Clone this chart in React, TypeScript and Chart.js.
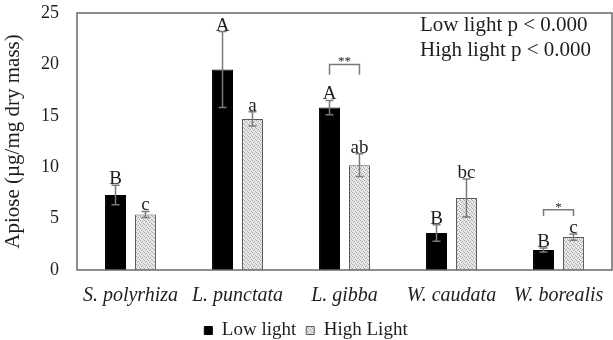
import React, { useEffect, useRef } from "react";
import { Chart, registerables } from "chart.js";

Chart.register(...registerables);

const categories = ["S. polyrhiza", "L. punctata", "L. gibba", "W. caudata", "W. borealis"];
const seriesNames = ["Low light", "High Light"];
const lowLight = [7.3, 19.5, 15.8, 3.6, 1.95];
const lowLightErr = [0.95, 3.7, 0.7, 0.8, 0.2];
const highLight = [5.4, 14.7, 10.2, 7.0, 3.2];
const highLightErr = [0.3, 0.7, 1.1, 1.85, 0.3];
const lowLetters = ["B", "A", "A", "B", "B"];
const highLetters = ["c", "a", "ab", "bc", "c"];
const bracketCategory = [2, 4];
const bracketTop = [20.0, 5.85];
const bracketLegBottom = [19.0, 5.25];
const bracketMarks = ["**", "*"];
const statLines = ["Low light p < 0.000", "High light p < 0.000"];
const yMin = 0;
const yMax = 25;
const yStep = 5;
const yTitle = "Apiose (\u00b5g/mg dry mass)";

const SERIF = "'Liberation Serif', 'Times New Roman', serif";
const TEXT = "#1e1e1e";
const GREY = "#7a7a7a";

const annotate = {
  id: "annotate",
  afterDatasetsDraw(chart: any) {
    const ctx = chart.ctx;
    const ys = chart.scales.y;
    const area = chart.chartArea;
    const sets: [number[], number[], string[]][] = [
      [lowLight, lowLightErr, lowLetters],
      [highLight, highLightErr, highLetters],
    ];
    ctx.save();
    sets.forEach(([vals, errs, letters], di) => {
      const meta = chart.getDatasetMeta(di);
      meta.data.forEach((bar: any, i: number) => {
        const x = bar.x;
        const yt = ys.getPixelForValue(vals[i] + errs[i]);
        const yb = ys.getPixelForValue(vals[i] - errs[i]);
        ctx.strokeStyle = GREY;
        ctx.lineWidth = 1.5;
        ctx.beginPath();
        ctx.moveTo(x, yt);
        ctx.lineTo(x, yb);
        ctx.moveTo(x - 4, yt);
        ctx.lineTo(x + 4, yt);
        ctx.moveTo(x - 4, yb);
        ctx.lineTo(x + 4, yb);
        ctx.stroke();
        ctx.fillStyle = TEXT;
        ctx.font = `19px ${SERIF}`;
        ctx.textAlign = "center";
        ctx.textBaseline = "alphabetic";
        ctx.fillText(letters[i], x, yt - 1);
      });
    });
    bracketCategory.forEach((ci, k) => {
      const x1 = chart.getDatasetMeta(0).data[ci].x;
      const x2 = chart.getDatasetMeta(1).data[ci].x;
      const yt = ys.getPixelForValue(bracketTop[k]);
      const yb = ys.getPixelForValue(bracketLegBottom[k]);
      ctx.strokeStyle = GREY;
      ctx.lineWidth = 1.5;
      ctx.beginPath();
      ctx.moveTo(x1, yb);
      ctx.lineTo(x1, yt);
      ctx.lineTo(x2, yt);
      ctx.lineTo(x2, yb);
      ctx.stroke();
      ctx.fillStyle = TEXT;
      ctx.font = `13px ${SERIF}`;
      ctx.textAlign = "center";
      ctx.textBaseline = "alphabetic";
      ctx.fillText(bracketMarks[k], (x1 + x2) / 2, yt + 1);
    });
    ctx.strokeStyle = "#6a6a6a";
    ctx.lineWidth = 1.5;
    ctx.strokeRect(area.left, area.top, area.right - area.left, area.bottom - area.top);
    ctx.fillStyle = TEXT;
    ctx.font = `21px ${SERIF}`;
    ctx.textAlign = "left";
    ctx.textBaseline = "alphabetic";
    statLines.forEach((s, i) => {
      ctx.fillText(s, 420, area.top + 18 + i * 25);
    });
    ctx.restore();
  },
};

export default function App() {
  const ref = useRef<HTMLCanvasElement | null>(null);
  useEffect(() => {
    const canvas = ref.current!;
    const pc = document.createElement("canvas");
    pc.width = 4;
    pc.height = 4;
    const p = pc.getContext("2d")!;
    p.fillStyle = "#e4e4e4";
    p.fillRect(0, 0, 4, 4);
    p.fillStyle = "#a8a8a8";
    [[0, 0], [2, 1], [1, 2], [3, 3]].forEach(([a, b]) => p.fillRect(a, b, 1, 1));
    p.fillStyle = "#f6f6f6";
    [[2, 3], [0, 2]].forEach(([a, b]) => p.fillRect(a, b, 1, 1));
    const pattern = canvas.getContext("2d")!.createPattern(pc, "repeat");

    const chart = new Chart(canvas, {
      type: "bar",
      data: {
        labels: categories,
        datasets: [
          {
            label: seriesNames[0],
            data: lowLight,
            backgroundColor: "#000000",
            borderColor: "#000000",
            borderWidth: 1,
            barPercentage: 0.7,
            categoryPercentage: 0.56,
          },
          {
            label: seriesNames[1],
            data: highLight,
            backgroundColor: pattern as any,
            borderColor: "#5a5a5a",
            borderWidth: 1,
            barPercentage: 0.7,
            categoryPercentage: 0.56,
          },
        ],
      },
      options: {
        responsive: false,
        animation: false,
        devicePixelRatio: 1,
        layout: { padding: { top: 13, right: 1, left: 0, bottom: -10 } },
        plugins: {
          tooltip: { enabled: false },
          legend: {
            position: "bottom",
            labels: {
              boxWidth: 8,
              boxHeight: 8,
              padding: 10,
              color: TEXT,
              font: { size: 19, family: SERIF },
            },
          },
        },
        scales: {
          x: {
            grid: { display: false, drawTicks: false },
            border: { display: false },
            ticks: {
              color: TEXT,
              padding: 14,
              font: { size: 20, family: SERIF, style: "italic" },
            },
            afterFit: (s: any) => {
              s.height = 41;
              s.paddingLeft = 0;
              s.paddingRight = 0;
            },
          },
          y: {
            min: yMin,
            max: yMax,
            grid: { display: false, drawTicks: false },
            border: { display: false },
            ticks: {
              stepSize: yStep,
              color: TEXT,
              padding: 18,
              font: { size: 18, family: SERIF },
            },
            title: {
              display: true,
              text: yTitle,
              color: TEXT,
              padding: { top: 1, bottom: 0 },
              font: { size: 21, family: SERIF },
            },
            afterFit: (s: any) => {
              s.width = 77;
              s.paddingTop = 0;
              s.paddingBottom = 0;
            },
          },
        },
      },
      plugins: [annotate],
    });
    return () => chart.destroy();
  }, []);
  return (
    <div style={{ position: "absolute", left: 0, top: 0, width: 613, height: 340, background: "#fff" }}>
      <canvas ref={ref} width={613} height={340} />
    </div>
  );
}
